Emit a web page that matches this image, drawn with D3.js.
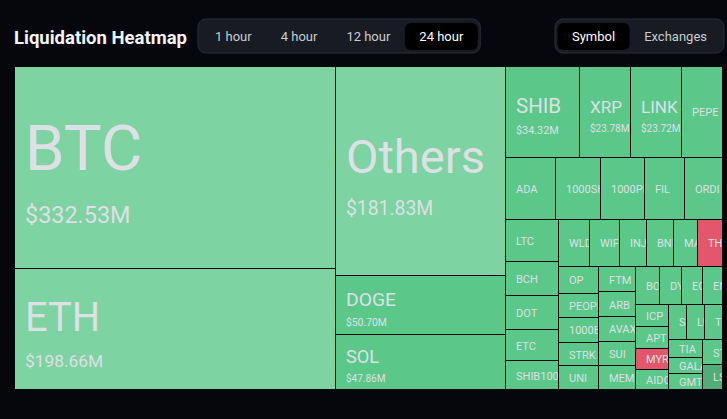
<!DOCTYPE html>
<html>
<head>
<meta charset="utf-8">
<script src="https://cdn.jsdelivr.net/npm/d3@7"></script>
<style>
  html, body { margin: 0; background: #05070c; }
  svg { display: block; font-family: Roboto, "Noto Sans", sans-serif; }
</style>
</head>
<body>
<div id="heatmap"></div>
<script>
let width = 727;
let height = 419;
let margin = ({top: 67, right: 4, bottom: 29, left: 15});

let periods = ["1 hour", "4 hour", "12 hour", "24 hour"];
let activePeriod = "24 hour";
let views = ["Symbol", "Exchanges"];
let activeView = "Symbol";

// liquidations in the last 24h, millions of USD
let symbols = ["BTC", "ETH", "Others", "DOGE", "SOL",
    "SHIB", "XRP", "LINK", "PEPE",
    "ADA", "1000SHIB", "1000PEPE", "FIL", "ORDI",
    "LTC", "BCH", "DOT", "ETC", "SHIB1000",
    "WLD", "WIF", "INJ", "BNB", "MATIC", "THETA",
    "OP", "PEOPLE", "1000BONK", "STRK", "UNI",
    "FTM", "ARB", "AVAX", "SUI", "MEME",
    "BOME", "DYDX", "EOS", "ENA",
    "ICP", "APT", "MYRO", "AIDOGE",
    "SAGA", "LUNC", "TRX",
    "TIA", "GALA", "GMT",
    "STX", "LSK"];
let amounts = [332.53, 198.66, 181.83, 50.70, 47.86,
    34.32, 23.78, 23.72, 19.0,
    15.9, 14.5, 14.0, 12.7, 12.0,
    11.3, 9.2, 9.1, 8.4, 7.9,
    7.4, 7.3, 6.5, 6.3, 5.9, 5.9,
    5.5, 5.1, 5.0, 4.9, 4.85,
    4.85, 4.8, 4.75, 4.6, 4.55,
    4.6, 4.35, 4.15, 3.9,
    3.7, 3.65, 3.5, 3.45,
    3.2, 3.15, 3.15,
    3.1, 2.8, 2.8,
    2.6, 2.5];
// which side dominated the liquidations
let sides = ["top", "top", "top", "long", "long",
    "long", "long", "long", "long",
    "long", "long", "long", "long", "long",
    "long", "long", "long", "long", "long",
    "long", "long", "long", "long", "long", "short",
    "long", "long", "long", "long", "long",
    "long", "long", "long", "long", "long",
    "long", "long", "long", "long",
    "long", "long", "short", "long",
    "long", "long", "long",
    "long", "long", "long",
    "long", "deep"];

let color = d3.scaleOrdinal(["top", "long", "short", "deep"], ["#7dd3a1", "#5bc88a", "#e45669", "#52ac77"]);
let fmt = v => `$${v.toFixed(2)}M`;

let svg = d3.select("#heatmap")
    .append("svg")
    .attr("width", width)
    .attr("height", height)
    .attr("viewBox", [0, 0, width, height]);

svg.append("rect")
    .attr("width", width)
    .attr("height", height)
    .attr("fill", "#05070c");

// header
svg.append("text")
    .attr("x", 14)
    .attr("y", 44)
    .attr("fill", "#f2f4f7")
    .attr("font-size", 18.5)
    .attr("font-weight", 700)
    .text("Liquidation Heatmap");

let tabs = (x, items, active) => {
    let g = svg.append("g");
    let bg = g.append("rect")
        .attr("x", x)
        .attr("y", 19)
        .attr("height", 34)
        .attr("rx", 8)
        .attr("fill", "#181b21")
        .attr("stroke", "#2a2e35");
    let cur = x + 2.5;
    items.forEach(t => {
        let label = g.append("text")
            .attr("y", 41)
            .attr("font-size", 13)
            .attr("text-anchor", "middle")
            .attr("fill", t === active ? "#ffffff" : "#c9cdd3")
            .text(t);
        let w = label.node().getComputedTextLength() + 29;
        if (t === active) {
            g.insert("rect", "text")
                .attr("x", cur)
                .attr("y", 23)
                .attr("width", w)
                .attr("height", 27)
                .attr("rx", 6)
                .attr("fill", "#000");
        }
        label.attr("x", cur + w / 2);
        cur += w;
    });
    bg.attr("width", cur + 2.5 - x);
};
tabs(198, periods, activePeriod);
tabs(555, views, activeView);

// treemap
let root = d3.hierarchy({children: symbols.map((s, i) => ({name: s, value: amounts[i], side: sides[i]}))})
    .sum(d => d.value || 0);

d3.treemap()
    .tile(d3.treemapSquarify)
    .size([width - margin.left - margin.right, height - margin.top - margin.bottom])(root);

let cell = svg.append("g")
    .attr("transform", `translate(${margin.left},${margin.top})`)
    .selectAll("g")
    .data(root.leaves())
    .join("g")
    .attr("transform", d => `translate(${Math.round(d.x0)},${Math.round(d.y0)})`);

cell.append("clipPath")
    .attr("id", (d, i) => "clip" + i)
    .append("rect")
    .attr("width", d => Math.max(0, Math.round(d.x1) - Math.round(d.x0) - 1))
    .attr("height", d => Math.max(0, Math.round(d.y1) - Math.round(d.y0) - 1));

cell.append("rect")
    .attr("width", d => Math.max(0, Math.round(d.x1) - Math.round(d.x0) - 1))
    .attr("height", d => Math.max(0, Math.round(d.y1) - Math.round(d.y0) - 1))
    .attr("fill", d => color(d.data.side));

// labels are clipped to their cell, as on the site
cell.each(function(d, i) {
    let g = d3.select(this).append("g")
        .attr("clip-path", `url(#clip${i})`)
        .attr("fill", "#dde0e5");
    let w = d.x1 - d.x0;
    let h = d.y1 - d.y0;
    if (w * h >= 4000 && h >= 50) {
        let nameSize = Math.min(h * 0.33, 0.25 * Math.sqrt(w * h));
        let valueSize = Math.max(10, 3.64 * Math.sqrt(nameSize) - 5.65);
        let base = h / 2 + nameSize * 0.03;
        g.append("text")
            .attr("x", 10)
            .attr("y", base)
            .attr("font-size", nameSize)
            .text(d.data.name);
        g.append("text")
            .attr("x", 10)
            .attr("y", base + 0.35 * nameSize + 1.3 * valueSize)
            .attr("font-size", valueSize)
            .text(fmt(d.data.value));
    } else {
        g.append("text")
            .attr("x", 10)
            .attr("y", h / 2)
            .attr("dy", "0.36em")
            .attr("font-size", 11)
            .text(d.data.name);
    }
});
</script>
</body>
</html>
